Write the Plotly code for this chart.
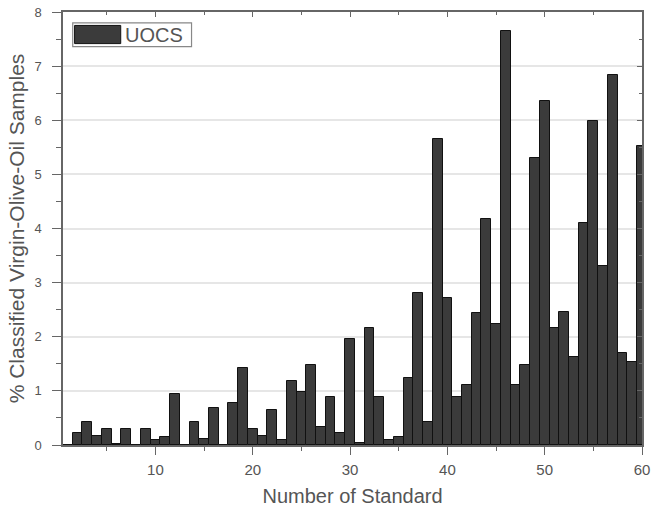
import plotly.graph_objects as go

standards = list(range(1, 61))
uocs = [0.00, 0.23, 0.43, 0.17, 0.30, 0.02, 0.30, 0.00, 0.30, 0.10,
        0.15, 0.95, 0.00, 0.43, 0.12, 0.69, 0.00, 0.77, 1.42, 0.30,
        0.16, 0.64, 0.10, 1.19, 0.98, 1.47, 0.34, 0.89, 0.22, 1.96,
        0.03, 2.17, 0.89, 0.10, 0.15, 1.23, 2.80, 0.43, 5.65, 2.71,
        0.89, 1.10, 2.43, 4.17, 2.24, 7.64, 1.10, 1.47, 5.30, 6.36,
        2.17, 2.45, 1.63, 4.11, 5.98, 3.31, 6.83, 1.70, 1.53, 5.52]
series_name = "UOCS"

x_ticks = [10, 20, 30, 40, 50, 60]
y_ticks = [0, 1, 2, 3, 4, 5, 6, 7, 8]

FONT = "Liberation Sans, Arial, sans-serif"
TXT = "#555555"
AX = "#666666"
BAR = "#3b3b3b"
XR = [0.5, 60]
YR = [0, 8]

fig = go.Figure()
fig.add_trace(go.Bar(
    x=standards, y=uocs, name=series_name, width=1.0,
    marker=dict(color=BAR, line=dict(color="#111111", width=1)),
    cliponaxis=False, showlegend=False,
))
fig.add_trace(go.Scatter(x=[], y=[], xaxis="x2", yaxis="y2",
                         showlegend=False, hoverinfo="skip"))

# legend box drawn in paper coordinates (wide swatch like the original)
fig.add_shape(type="rect", xref="paper", yref="paper",
              x0=0.0168, x1=0.222, y0=0.920, y1=0.975,
              line=dict(color="#888888", width=1.2), fillcolor="white", layer="above")
fig.add_shape(type="rect", xref="paper", yref="paper",
              x0=0.020, x1=0.0997, y0=0.927, y1=0.969,
              line=dict(color="#111111", width=1), fillcolor=BAR, layer="above")
fig.add_annotation(xref="paper", yref="paper", x=0.104, y=0.948,
                   xanchor="left", yanchor="middle", showarrow=False,
                   text=series_name, font=dict(size=20, color=TXT, family=FONT))

fig.update_layout(
    width=652, height=510,
    margin=dict(l=63, r=10, t=12, b=65),
    paper_bgcolor="white", plot_bgcolor="white",
    font=dict(family=FONT, color=TXT, size=13),
    bargap=0,
    showlegend=False,
    xaxis=dict(range=XR, tickmode="array", tickvals=x_ticks, automargin=False,
               ticks="outside", ticklen=8, tickcolor=AX, tickwidth=1.2,
               minor=dict(dtick=5, tick0=0, ticks="outside", ticklen=4, tickcolor=AX),
               showline=True, linecolor=AX, linewidth=1.5,
               showgrid=False, zeroline=False, ticklabelstandoff=2,
               tickfont=dict(size=15, color=TXT),
               title=dict(text="Number of Standard", font=dict(size=20, color=TXT), standoff=12)),
    yaxis=dict(range=YR, tickmode="array", tickvals=y_ticks, automargin=False,
               ticks="outside", ticklen=9, tickcolor=AX, tickwidth=1.2,
               minor=dict(dtick=0.5, tick0=0, ticks="outside", ticklen=5, tickcolor=AX, showgrid=False),
               showline=True, linecolor=AX, linewidth=1.5,
               showgrid=True, gridcolor="#e6e6e6", gridwidth=2,
               zeroline=False, ticklabelstandoff=8,
               tickfont=dict(size=13, color=TXT),
               title=dict(text="% Classified Virgin-Olive-Oil Samples", font=dict(size=21, color=TXT), standoff=4)),
    xaxis2=dict(range=XR, overlaying="x", side="top", tickmode="array", tickvals=x_ticks,
                automargin=False,
                ticks="inside", ticklen=5, tickcolor=AX,
                minor=dict(dtick=5, tick0=0, ticks="inside", ticklen=3, tickcolor=AX),
                showline=True, linecolor=AX, linewidth=1.5, showticklabels=False,
                showgrid=False, zeroline=False),
    yaxis2=dict(range=YR, overlaying="y", side="right", tickmode="array", tickvals=y_ticks,
                automargin=False,
                ticks="inside", ticklen=5, tickcolor=AX,
                minor=dict(dtick=0.5, tick0=0, ticks="inside", ticklen=3, tickcolor=AX),
                showline=True, linecolor=AX, linewidth=1.5, showticklabels=False,
                showgrid=False, zeroline=False),
)

fig.write_html("out.html")
